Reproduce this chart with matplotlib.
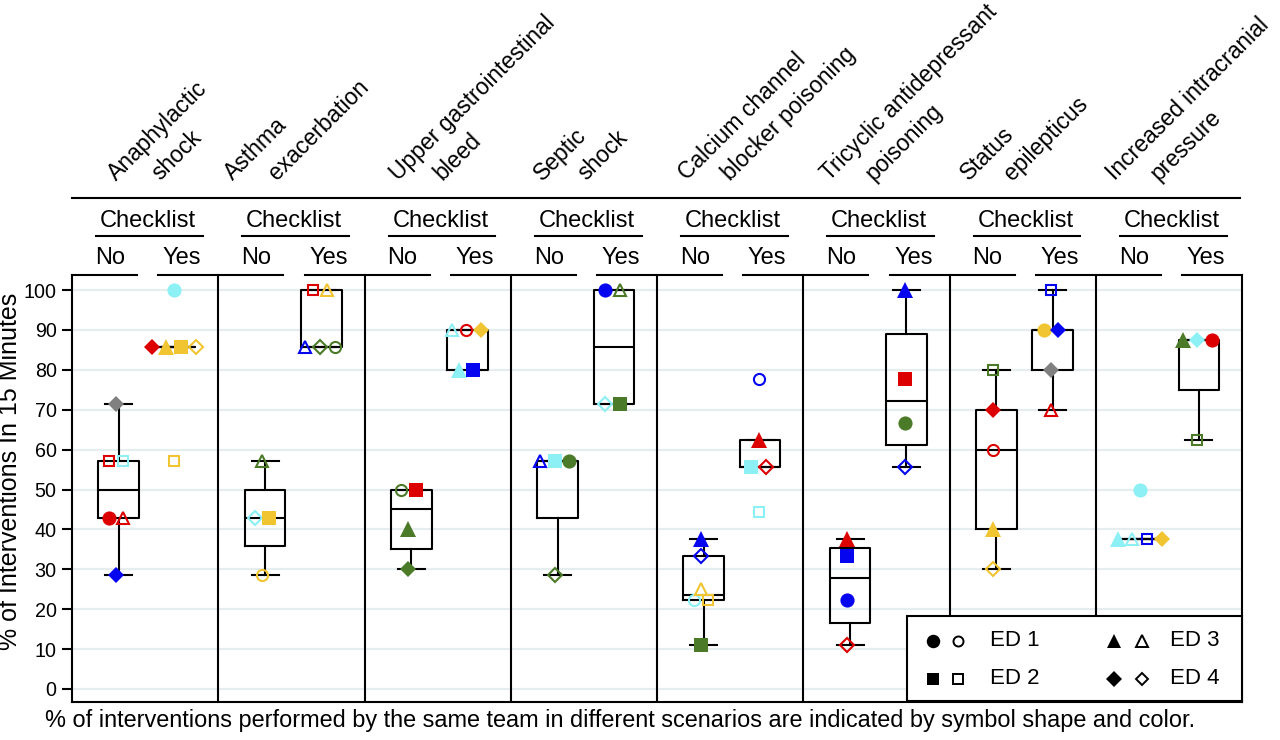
import numpy as np
import matplotlib
matplotlib.use("Agg")
import matplotlib.pyplot as plt
from matplotlib.transforms import blended_transform_factory
from matplotlib.lines import Line2D
from matplotlib.patches import Rectangle

plt.rcParams['font.family'] = ['Liberation Sans', 'DejaVu Sans']

# ---------------- data ----------------
scenario_line1 = ["Anaphylactic", "Asthma", "Upper gastrointestinal", "Septic",
                  "Calcium channel", "Tricyclic antidepressant", "Status",
                  "Increased intracranial"]
scenario_line2 = ["shock", "exacerbation", "bleed", "shock", "blocker poisoning",
                  "poisoning", "epilepticus", "pressure"]
checklist_levels = ["No", "Yes"]
ed_labels = ["ED 1", "ED 2", "ED 3", "ED 4"]
y_ticks = [0, 10, 20, 30, 40, 50, 60, 70, 80, 90, 100]
y_label = "% of Interventions In 15 Minutes"
caption = ("% of interventions performed by the same team in different scenarios "
           "are indicated by symbol shape and color.")

# one entry per point (scenario index, checklist 0=No/1=Yes, value, ED, filled, colour)
pt_scenario = [0]*6 + [0]*6 + [1]*4 + [1]*5 + [2]*4 + [2]*5 + [3]*4 + [3]*4 + \
              [4]*6 + [4]*5 + [5]*4 + [5]*4 + [6]*5 + [6]*5 + [7]*5 + [7]*4
pt_checklist = [0]*6 + [1]*6 + [0]*4 + [1]*5 + [0]*4 + [1]*5 + [0]*4 + [1]*4 + \
               [0]*6 + [1]*5 + [0]*4 + [1]*4 + [0]*5 + [1]*5 + [0]*5 + [1]*4
pt_value = [71.4, 57.1, 57.1, 42.9, 42.9, 28.6,
            100, 85.7, 85.7, 85.7, 85.7, 57.1,
            57.1, 42.9, 42.9, 28.6,
            100, 100, 85.7, 85.7, 85.7,
            50, 50, 40, 30,
            90, 90, 90, 80, 80,
            57.1, 57.1, 57.1, 28.6,
            100, 100, 71.4, 71.4,
            37.5, 33.3, 25, 22.2, 22.2, 11.1,
            77.8, 62.5, 55.6, 55.6, 44.4,
            37.5, 33.3, 22.2, 11.1,
            100, 77.8, 66.7, 55.6,
            80, 70, 60, 40, 30,
            100, 90, 90, 80, 70,
            50, 37.5, 37.5, 37.5, 37.5,
            87.5, 87.5, 87.5, 62.5]
pt_ed = [4, 2, 2, 1, 3, 4,
         1, 4, 3, 2, 4, 2,
         3, 4, 2, 1,
         2, 3, 3, 4, 1,
         1, 2, 3, 4,
         3, 1, 4, 3, 2,
         3, 2, 1, 4,
         1, 3, 4, 2,
         3, 4, 3, 1, 2, 2,
         1, 3, 2, 4, 2,
         3, 2, 1, 4,
         3, 2, 1, 4,
         2, 4, 1, 3, 4,
         2, 1, 4, 4, 3,
         1, 3, 3, 2, 4,
         3, 4, 1, 2]
pt_filled = [1, 0, 0, 1, 0, 1,
             1, 1, 1, 1, 0, 0,
             0, 0, 1, 0,
             0, 0, 0, 0, 0,
             0, 1, 1, 1,
             0, 0, 1, 1, 1,
             0, 1, 1, 0,
             1, 0, 0, 1,
             1, 0, 0, 0, 0, 1,
             0, 1, 1, 0, 0,
             1, 1, 1, 0,
             1, 1, 1, 0,
             0, 1, 0, 1, 0,
             0, 1, 1, 1, 0,
             1, 1, 0, 0, 1,
             1, 1, 1, 0]
pt_color = ["grey", "red", "cyan", "red", "red", "blue",
            "cyan", "red", "yellow", "yellow", "yellow", "yellow",
            "green", "cyan", "yellow", "yellow",
            "red", "yellow", "blue", "green", "green",
            "green", "red", "green", "green",
            "cyan", "red", "yellow", "cyan", "blue",
            "blue", "cyan", "green", "green",
            "blue", "green", "cyan", "green",
            "blue", "blue", "yellow", "cyan", "yellow", "green",
            "blue", "red", "cyan", "red", "cyan",
            "red", "blue", "blue", "red",
            "blue", "red", "green", "blue",
            "green", "red", "red", "yellow", "yellow",
            "blue", "yellow", "blue", "grey", "red",
            "cyan", "cyan", "cyan", "blue", "yellow",
            "green", "cyan", "red", "green"]

# ---------------- styles ----------------
color_map = {"red": "#DC0000", "cyan": "#8CF0F5", "yellow": "#F0C531",
             "blue": "#0505F0", "green": "#4B7A28", "grey": "#808080"}
marker_map = {1: "o", 2: "s", 3: "^", 4: "D"}
ms_filled = {1: 10.2, 2: 9.6, 3: 11.0, 4: 8.4}
ms_open = {1: 8.0, 2: 7.8, 3: 9.0, 4: 7.0}
box_center = [0.32, 0.705]
pt_center = [0.30, 0.695]
dodge = 0.10
LW = 1.5

W, H = 1280, 740
fig = plt.figure(figsize=(W / 100, H / 100), dpi=100)
fig.patch.set_facecolor("white")


def fx(px):
    return px / W


def fy(py):
    return 1 - py / H


ax_left, ax_right, ax_top, ax_bottom = 72, 1242, 275, 702
ax = fig.add_axes([fx(ax_left), fy(ax_bottom), fx(ax_right) - fx(ax_left),
                   fy(ax_top) - fy(ax_bottom)])
px_per_unit = 3.99
y0_px = 689
ax.set_xlim(0, len(scenario_line1))
ax.set_ylim(-(ax_bottom - y0_px) / px_per_unit, 100 + (290 - ax_top) / px_per_unit)
ax.autoscale(False)

# grid
ax.set_yticks(y_ticks)
ax.set_yticklabels([str(t) for t in y_ticks])
ax.yaxis.grid(True, color="#E6EDEF", lw=1.6)
ax.set_axisbelow(True)
ax.set_xticks([])
ax.tick_params(axis="y", labelsize=14.2, length=7, width=LW, direction="out", pad=4)
for side in ["left", "bottom", "right"]:
    ax.spines[side].set_linewidth(LW)
ax.spines["top"].set_visible(False)

for i in range(1, len(scenario_line1)):
    ax.axvline(i, color="black", lw=LW, zorder=1.5)

# boxes
pt_scenario_a = np.array(pt_scenario)
pt_checklist_a = np.array(pt_checklist)
pt_value_a = np.array(pt_value, dtype=float)
stats, positions = [], []
for s in range(len(scenario_line1)):
    for c in range(2):
        v = np.sort(pt_value_a[(pt_scenario_a == s) & (pt_checklist_a == c)])
        q1 = np.percentile(v, 25, method="averaged_inverted_cdf")
        med = np.percentile(v, 50, method="averaged_inverted_cdf")
        q3 = np.percentile(v, 75, method="averaged_inverted_cdf")
        iqr = q3 - q1
        lo = v[v >= q1 - 1.5 * iqr - 1e-9].min()
        hi = v[v <= q3 + 1.5 * iqr + 1e-9].max()
        stats.append(dict(med=med, q1=q1, q3=q3, whislo=lo, whishi=hi, fliers=[]))
        positions.append(s + box_center[c])
lp = dict(color="black", lw=LW)
ax.bxp(stats, positions=positions, widths=0.278, capwidths=0.185, showfliers=False,
       boxprops=lp, whiskerprops=lp, capprops=lp, medianprops=lp,
       manage_ticks=False, zorder=2)

# points with dodge for equal values
for s in range(len(scenario_line1)):
    for c in range(2):
        idx = [k for k in range(len(pt_value)) if pt_scenario[k] == s and pt_checklist[k] == c]
        for val in sorted(set(pt_value[k] for k in idx)):
            same = [k for k in idx if pt_value[k] == val]
            n = len(same)
            for j, k in enumerate(same):
                x = s + pt_center[c] + (j - (n - 1) / 2) * dodge
                col = color_map[pt_color[k]]
                ed = pt_ed[k]
                if pt_filled[k]:
                    ax.plot([x], [val], marker=marker_map[ed], ms=ms_filled[ed],
                            mfc=col, mec=col, mew=0, ls="none", zorder=4, clip_on=False)
                else:
                    ax.plot([x], [val], marker=marker_map[ed], ms=ms_open[ed],
                            mfc="none", mec=col, mew=1.5, ls="none", zorder=4, clip_on=False)

# header
tx_fig = blended_transform_factory(ax.transData, fig.transFigure)
tx_ax = blended_transform_factory(ax.transData, ax.transAxes)
label_off1 = [44, 14.7, 34, 31.7, 29.8, 26.7, 19.4, 19.4]
panel_px = (ax_right - ax_left) / len(scenario_line1)
for i in range(len(scenario_line1)):
    ax.add_line(Line2D([i, i + 0.445], [1, 1], transform=tx_ax, color="black", lw=LW, clip_on=False))
    ax.add_line(Line2D([i + 0.59, i + 1], [1, 1], transform=tx_ax, color="black", lw=LW, clip_on=False))
    ax.text(i + 0.26, fy(264), checklist_levels[0], transform=tx_fig, ha="center",
            va="baseline", fontsize=17)
    ax.text(i + 0.753, fy(264), checklist_levels[1], transform=tx_fig, ha="center",
            va="baseline", fontsize=17)
    ax.text(i + 0.52, fy(226.7), "Checklist", transform=tx_fig, ha="center",
            va="baseline", fontsize=17)
    ax.add_line(Line2D([i + 0.165, i + 0.895], [fy(236), fy(236)], transform=tx_fig,
                       color="black", lw=LW, clip_on=False))
    x1 = i + label_off1[i] / panel_px
    ax.text(x1, fy(181), scenario_line1[i], transform=tx_fig, rotation=45,
            rotation_mode="anchor", ha="left", va="baseline", fontsize=16.5)
    ax.text(x1 + 44 / panel_px, fy(181), scenario_line2[i], transform=tx_fig, rotation=45,
            rotation_mode="anchor", ha="left", va="baseline", fontsize=16.5)
ax.add_line(Line2D([0, len(scenario_line1) - 0.015], [fy(198), fy(198)], transform=tx_fig,
                   color="black", lw=LW, clip_on=False))

# y label and caption
fig.text(fx(10.5), fy(471), y_label, rotation=90, ha="center", va="center", fontsize=18)
fig.text(fx(45), fy(727), caption, ha="left", va="baseline", fontsize=16.9)

# legend
fig.add_artist(Rectangle((fx(907), fy(701)), fx(1242) - fx(907), fy(616) - fy(701),
                         transform=fig.transFigure, facecolor="white", edgecolor="black",
                         lw=LW, zorder=5))
leg_rows = [641, 679]
leg_cols = [(933, 958, 990), (1114, 1142, 1170)]
for e in range(4):
    col_i, row_i = e // 2, e % 2
    xf, xo, xt = leg_cols[col_i]
    yy = fy(leg_rows[row_i])
    ed = e + 1
    fig.add_artist(Line2D([fx(xf)], [yy], transform=fig.transFigure, marker=marker_map[ed],
                          ms=ms_filled[ed] * 0.95, mfc="black", mec="black", mew=0, ls="none", zorder=6))
    fig.add_artist(Line2D([fx(xo)], [yy], transform=fig.transFigure, marker=marker_map[ed],
                          ms=ms_open[ed] * 0.9, mfc="none", mec="black", mew=1.4, ls="none", zorder=6))
    fig.text(fx(xt), yy, ed_labels[e], ha="left", va="center", fontsize=16, zorder=7)

fig.savefig("out.png", dpi=100, facecolor="white")
